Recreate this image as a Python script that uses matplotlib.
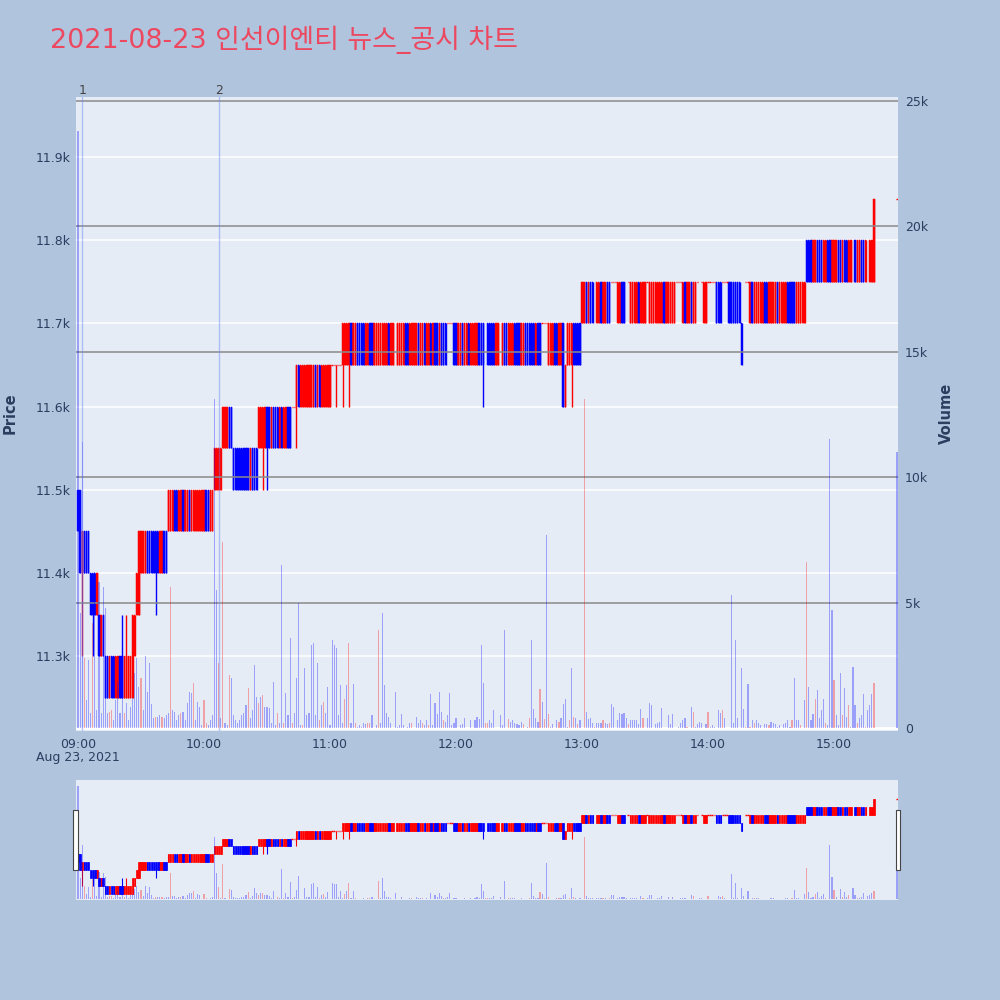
import numpy as np
import matplotlib
matplotlib.use("Agg")
import matplotlib.pyplot as plt
from matplotlib.patches import Rectangle
from matplotlib.transforms import blended_transform_factory

# ---------------- data ----------------
title = "2021-08-23 인선이엔티 뉴스_공시 차트"
x_tick_minutes = [0, 60, 120, 180, 240, 300, 360]
x_tick_labels = ["09:00", "10:00", "11:00", "12:00", "13:00", "14:00", "15:00"]
price_ticks = [11300, 11400, 11500, 11600, 11700, 11800, 11900]
price_tick_labels = ["11.3k", "11.4k", "11.5k", "11.6k", "11.7k", "11.8k", "11.9k"]
vol_ticks = [0, 5000, 10000, 15000, 20000, 25000]
vol_tick_labels = ["0", "5k", "10k", "15k", "20k", "25k"]

# news markers (minute after 09:00, label)
news_minutes = [2, 67]
news_labels = ["1", "2"]

# candle segments: start minute, lower price of the 50-won band, one char per minute
# R = up candle (low->high), B = down candle (high->low), - = doji at band top, . = no trade
seg_start = [0, 2, 6, 10, 13, 27, 28, 30, 43, 65, 69, 74, 86, 102, 104, 121, 124, 126, 240, 347]
seg_low = [11450, 11400, 11350, 11300, 11250, 11300, 11350, 11400, 11450, 11500, 11550,
           11500, 11550, 11550, 11600, 11600, 11600, 11650, 11700, 11750]
seg_pattern = [
    "B", "RBBB", "BBBR", "BRB", "BBRBBRRBBRRRR", "R", "R", "RRRBBBBBBRRBB",
    "RRRBBRRBRRBRRRRRRRBBRR", "RRRR", "RRRBB", "BBBBBBBBRBBB", "RRRRBBRBBBRBRRBB",
    "--", "RBRRRRRRRBRBRRRRR", "--", "--",
    "RRRRBRRBBB" "BRRBBRRRRR" "RRBRR.RRRR" "BBRRRRBRRB" "RRBRBBRBBB"
    "---BBRRBRR" "BRRRRBBB.B" "BBBRR.RBBR" "RRBBBRRBBB" "BBRBB---RR" "RBBRRBRRRR" "BBBB",
    "RRBRBB.RRB" "RRBB---RRB" "B.-RRRRBRR" "R-RRRRRRRB" "RRRRR---RB"
    "RRBRR-.-RR" "----BBB---" "BBBBBBB.--" "RBRRRRRBBR" "RRRBRRRRBB" "BBRRRRR",
    "BBBRRBBBRR" "BBRRRBBRBB" "RR.BRRBBR." "RR",
]
# individual candles read separately: minute, open, high, low, close
sp_minute = [1, 2, 7, 21, 23, 26, 29, 37, 88, 90, 104, 123, 126, 129, 193, 231, 232, 235, 316, 379, 390]
sp_open = [11500, 11400, 11400, 11300, 11250, 11250, 11350, 11450, 11550, 11600, 11600, 11650,
           11650, 11650, 11700, 11700, 11600, 11650, 11700, 11750, 11850]
sp_high = [11500, 11450, 11400, 11350, 11350, 11350, 11450, 11450, 11600, 11600, 11650, 11650,
           11700, 11700, 11700, 11700, 11650, 11700, 11700, 11850, 11850]
sp_low = [11400, 11300, 11300, 11250, 11250, 11250, 11350, 11350, 11500, 11500, 11550, 11600,
          11600, 11600, 11600, 11600, 11600, 11600, 11650, 11750, 11850]
sp_close = [11400, 11450, 11350, 11250, 11300, 11350, 11450, 11400, 11600, 11550, 11650, 11650,
            11700, 11700, 11650, 11600, 11650, 11700, 11650, 11850, 11850]

# volume per minute (hundreds of shares), minutes 0..390
volume_h = [
    238, 46, 114, 28, 11, 27, 6, 42, 62, 7,
    58, 6, 56, 48, 6, 6.5, 7, 3, 11, 18.5,
    6, 12.5, 6, 10, 3, 8.5, 12, 22, 28, 16.5,
    20, 7, 28.5, 14.5, 26, 9.5, 4, 4.5, 4.5, 5,
    4.5, 4, 5, 6, 56, 7, 6.5, 3, 5, 6,
    6.5, 3, 10, 14.5, 14, 18, 3, 10.5, 8.5, 1,
    11, 2, 1, 3, 5, 131, 55, 26, 4, 74,
    2, 1, 21, 20, 5, 3, 2, 3, 5, 6,
    9, 16, 4, 7, 25, 12.5, 10, 12.5, 13, 8.5,
    8.5, 8, 2, 18.5, 1, 6, 2, 65, 2, 14,
    5, 36, 2, 6, 20, 50, 1, 1, 24, 5,
    6, 33, 34, 5, 26, 3, 9, 10.5, 6, 16.5,
    1, 35, 33, 32, 5, 17, 2, 11.5, 17, 34,
    2, 17.5, 2, 0.5, 1, 0.5, 2, 1.5, 2, 2,
    5, 0, 1, 39, 2, 46, 17, 6, 4.5, 2,
    0, 14.5, 0.5, 1, 5.5, 1, 0, 0.5, 2, 2,
    0, 4.5, 2, 3, 2, 1, 3, 1, 13.5, 1,
    10, 5.5, 14.5, 6.5, 3, 2.5, 5, 14, 1, 2,
    4, 0, 1, 1.5, 4, 0, 0, 3, 0, 3,
    4.5, 3.5, 33, 18, 2, 2, 3, 2, 7, 0,
    0, 5, 1, 39, 0, 3.5, 2.5, 3, 2, 1.5,
    1, 2.5, 1.5, 0, 0.5, 4, 35, 7.5, 4, 2.5,
    15.5, 10.5, 3.5, 77, 5.5, 0.5, 1.5, 0, 3, 2.5,
    4, 9.5, 11.5, 0.5, 3, 24, 4.5, 4, 1.5, 3,
    0, 131, 6.5, 3.5, 4, 2, 0.5, 2, 2, 2,
    3, 2, 1.5, 2, 9.5, 8.5, 0, 3, 6, 5.5,
    6, 4, 1.5, 3, 3, 3, 3, 1.5, 7.5, 4,
    0, 4, 10, 9, 0, 1.5, 2, 2.5, 8, 0,
    0, 5, 1.5, 5.5, 0, 0, 0.5, 2, 3, 4,
    0.5, 0, 8.5, 6.5, 0.5, 1.5, 2.5, 2, 0, 1.5,
    6.5, 0.5, 1, 0.5, 0, 7, 6, 7, 4, 0,
    0, 53, 2, 35, 4, 0, 24, 7.5, 0.5, 17.5,
    0.5, 3, 2, 3, 2, 1, 0, 1.5, 1.5, 1,
    2.5, 2, 1.5, 0.5, 1, 0, 1.5, 2, 3, 0.5,
    3, 20, 3, 3, 1, 0, 11, 66, 16.5, 3,
    5.5, 11.5, 15, 4, 7, 11.5, 2, 1, 115, 47,
    19, 5, 1, 22, 5, 16, 4.5, 9, 0.5, 24.5,
    9, 2, 4, 5, 13.5, 0.5, 7, 9, 13.5, 18,
    0, 0, 0, 0, 0, 0, 0, 0, 0, 0,
    110,
]
# minutes whose volume bar is drawn red
vol_red_minutes = [3, 7, 15, 16, 22, 30, 37, 40, 44, 49, 55, 60, 61, 67, 69, 72, 81, 86, 88, 95,
                   98, 102, 107, 115, 117, 127, 129, 132, 138, 139, 143, 159, 164, 167, 174, 194,
                   195, 205, 212, 215, 220, 222, 224, 229, 234, 236, 238, 241, 246, 250, 253, 262,
                   269, 290, 293, 300, 307, 318, 320, 322, 329, 340, 344, 347, 351, 356, 360, 364,
                   367, 371, 375, 379]

# ---------------- build OHLC ----------------
N = len(volume_h)
O = np.full(N, np.nan); H = np.full(N, np.nan); L = np.full(N, np.nan); C = np.full(N, np.nan)
for s, low, pat in zip(seg_start, seg_low, seg_pattern):
    for i, ch in enumerate(pat):
        m = s + i
        if ch == "R":
            o, c = low, low + 50
        elif ch == "B":
            o, c = low + 50, low
        elif ch == "-":
            o = c = low + 50
        else:
            continue
        O[m], C[m], H[m], L[m] = o, c, max(o, c), min(o, c)
for m, o, h, l, c in zip(sp_minute, sp_open, sp_high, sp_low, sp_close):
    O[m], H[m], L[m], C[m] = o, h, l, c

minutes = np.arange(N)
vol = np.array(volume_h, dtype=float) * 100
vol_colors = np.array(["blue"] * N, dtype=object)
vol_colors[vol_red_minutes] = "red"

# ---------------- styling ----------------
FONT = ["DejaVu Sans", "Noto Sans CJK KR"]
plt.rcParams["font.family"] = FONT
TXT = "#2A3F5F"
BG = "#B0C4DE"
PLOT_BG = "#E5ECF6"
XLIM = (-0.95, 390.45)
PLIM = (11210, 11972)
VLIM = (-120, 25150)

fig = plt.figure(figsize=(10, 10), dpi=100)
fig.patch.set_facecolor(BG)


def draw_candles(ax, body_w, wick_lw, edge_lw):
    valid = ~np.isnan(O)
    up = valid & (C > O)
    dn = valid & (C < O)
    dj = valid & (C == O)
    for mask, col in ((up, "red"), (dn, "blue")):
        ax.vlines(minutes[mask], L[mask], H[mask], color=col, lw=wick_lw, zorder=2)
        ax.bar(minutes[mask], np.abs(C - O)[mask], bottom=np.minimum(O, C)[mask], width=body_w,
               color=col, edgecolor=col, lw=edge_lw, zorder=3)
    ax.vlines(minutes[dj], L[dj], H[dj], color="red", lw=wick_lw, zorder=2)
    ax.hlines(O[dj], minutes[dj] - body_w / 2, minutes[dj] + body_w / 2, color="red",
              lw=1.0, zorder=3)


def draw_volume(ax, w, a):
    nz = vol > 0
    ax.bar(minutes[nz], vol[nz], width=w, color=list(vol_colors[nz]), alpha=a, lw=0, zorder=3)


# ---------------- main panel ----------------
ax = fig.add_axes([0.076, 0.269, 0.822, 0.634])
ax.set_facecolor(PLOT_BG)
ax.set_xlim(*XLIM)
ax.set_ylim(*PLIM)
ax.set_yticks(price_ticks)
ax.set_yticklabels(price_tick_labels)
ax.grid(axis="y", color="white", lw=1.1, zorder=0)
ax.set_axisbelow(True)
ax.set_xticks(x_tick_minutes)
ax.set_xticklabels(x_tick_labels)
ax.tick_params(axis="x", length=0, pad=5, labelsize=9, colors=TXT)
ax.tick_params(axis="y", length=0, pad=4, labelsize=9, colors=TXT)
for sp in ax.spines.values():
    sp.set_visible(False)
draw_candles(ax, 0.62, 1.0, 0.35)

ax2 = ax.twinx()
ax2.set_ylim(*VLIM)
ax2.set_yticks(vol_ticks)
ax2.set_yticklabels(vol_tick_labels)
ax2.tick_params(axis="y", length=0, pad=5, labelsize=9, colors=TXT)
for sp in ax2.spines.values():
    sp.set_visible(False)
for v in vol_ticks[1:]:
    ax2.axhline(v, color="#8a8a8a", lw=1.1, zorder=1)
ax2.axhline(0, color="white", lw=2, zorder=1)
draw_volume(ax2, 0.55, 0.32)
for nm, lab in zip(news_minutes, news_labels):
    ax2.axvline(nm, color="#6d83f2", alpha=0.45, lw=1.0, zorder=4)
    ax2.text(nm, 1.0, lab, transform=blended_transform_factory(ax2.transData, ax2.transAxes),
             ha="center", va="bottom", fontsize=9, color="#444444")
ax2.set_xlim(*XLIM)

trans = blended_transform_factory(ax.transData, fig.transFigure)
ax.text(0, 0.243, "Aug 23, 2021", transform=trans, ha="center", va="center",
        fontsize=9, color=TXT)

fig.text(0.05, 0.96, title, fontsize=19.4, color="#EC4860", ha="left", va="center")
fig.text(0.010, 0.587, "Price", rotation=90, fontsize=10.5, fontweight="bold",
         color=TXT, ha="center", va="center")
fig.text(0.946, 0.587, "Volume", rotation=90, fontsize=10.5, fontweight="bold",
         color=TXT, ha="center", va="center")

# ---------------- range slider ----------------
axs = fig.add_axes([0.076, 0.100, 0.822, 0.120])
axs.set_facecolor(PLOT_BG)
axs.set_xlim(*XLIM)
axs.set_ylim(*PLIM)
axs.set_xticks([]); axs.set_yticks([])
for sp in axs.spines.values():
    sp.set_visible(False)
draw_candles(axs, 0.75, 0.8, 0.5)
axs2 = axs.twinx()
axs2.set_ylim(*VLIM)
axs2.set_xlim(*XLIM)
axs2.set_yticks([])
for sp in axs2.spines.values():
    sp.set_visible(False)
draw_volume(axs2, 0.55, 0.32)

for xh in (0.0733, 0.8955):
    fig.patches.append(Rectangle((xh, 0.130), 0.0045, 0.060, transform=fig.transFigure,
                                 facecolor="white", edgecolor="#444444", lw=0.8, zorder=10))

fig.savefig("out.png", dpi=100, facecolor=BG)
